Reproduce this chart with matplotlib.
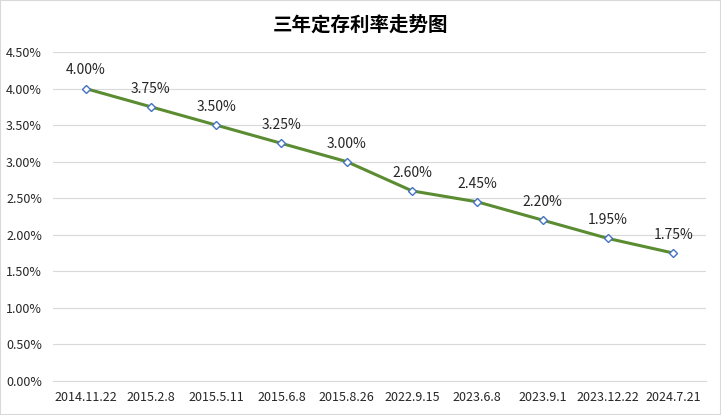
import matplotlib
matplotlib.use("Agg")
import matplotlib.pyplot as plt
from matplotlib.ticker import FuncFormatter, MultipleLocator

plt.rcParams['font.family'] = ['Noto Sans CJK SC', 'DejaVu Sans']

dates = ["2014.11.22", "2015.2.8", "2015.5.11", "2015.6.8", "2015.8.26",
         "2022.9.15", "2023.6.8", "2023.9.1", "2023.12.22", "2024.7.21"]
rates = [4.00, 3.75, 3.50, 3.25, 3.00, 2.60, 2.45, 2.20, 1.95, 1.75]
title = "三年定存利率走势图"

fig = plt.figure(figsize=(7.21, 4.15), dpi=100)
fig.patches.append(plt.Rectangle((0, 0), 1, 1, transform=fig.transFigure,
                                  fill=False, edgecolor='#d9d9d9', linewidth=1.5))
ax = fig.add_axes([0.0735, 0.082, 0.9055, 0.7927])

x = list(range(len(dates)))
ax.plot(x, rates, color='#5b8c32', linewidth=2.2, marker='D', markersize=4.5,
        markerfacecolor='white', markeredgecolor='#4472c4', markeredgewidth=1, zorder=3)
for xi, r in zip(x, rates):
    ax.annotate(f"{r:.2f}%", (xi, r), xytext=(0, 8), textcoords='offset points',
                ha='center', va='bottom', fontsize=10, color='#262626')

ax.set_xlim(-0.5, len(dates) - 0.5)
ax.set_ylim(0, 4.5)
ax.yaxis.set_major_locator(MultipleLocator(0.5))
ax.yaxis.set_major_formatter(FuncFormatter(lambda v, p: f"{v:.2f}%"))
ax.set_xticks(x)
ax.set_xticklabels(dates)
ax.tick_params(axis='both', length=0, labelsize=9, labelcolor='#262626')
ax.tick_params(axis='y', pad=8)
ax.tick_params(axis='x', pad=7)
ax.grid(axis='y', color='#d9d9d9', linewidth=0.8)
ax.set_axisbelow(True)
for s in ['top', 'right', 'left']:
    ax.spines[s].set_visible(False)
ax.spines['bottom'].set_color('#d9d9d9')

fig.text(0.5, 0.94, title, ha='center', va='center', fontsize=14, fontweight='bold', color='black')

fig.savefig("out.png", dpi=100)
